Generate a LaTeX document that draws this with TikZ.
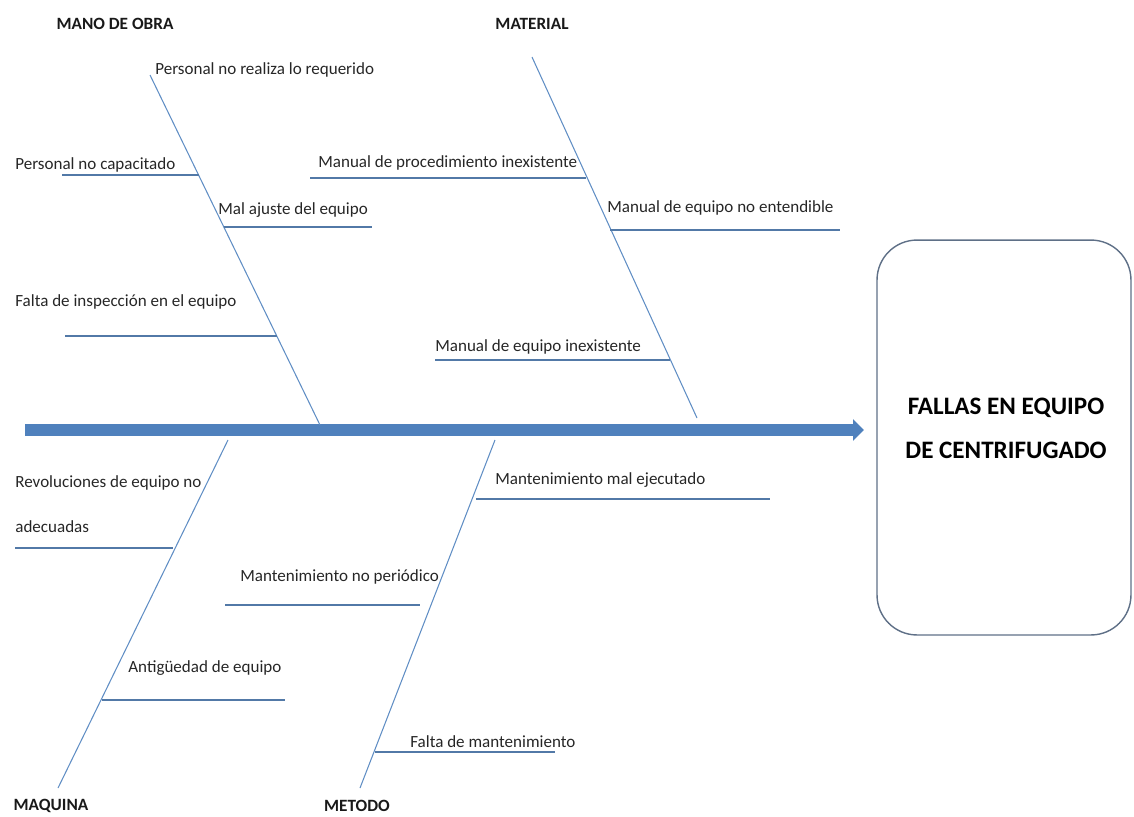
\documentclass[tikz,border=0pt]{standalone}
\usepackage{fontspec}
\setmainfont{Carlito}
\usepackage{xcolor}
\usetikzlibrary{positioning,arrows.meta,calc}

\definecolor{bonecol}{RGB}{96,142,196}
\definecolor{spinecol}{RGB}{79,129,189}
\definecolor{boxedge}{RGB}{95,112,135}

\begin{document}
\begin{tikzpicture}[x=0.02cm, y=-0.02cm,
  cause/.style={
    anchor=west, inner sep=0pt, text=black!85, font=\fontsize{9.7}{12}\selectfont
  },
  category/.style={
    inner sep=0pt, text=black!90, font=\bfseries\fontsize{9.8}{11}\selectfont
  },
  bone/.style={
    draw=bonecol, line width=0.6pt
  },
  twig/.style={
    draw=bonecol!85!black, line width=0.7pt
  },
  spine/.style={
    draw=spinecol, line width=0.25cm,
    -{Triangle[length=0.22cm, width=0.42cm]}
  },
  effect/.style={
    rectangle, draw=boxedge, line width=0.8pt, rounded corners=0.8cm,
    minimum width=5.08cm, minimum height=7.9cm
  },
  effecttext/.style={
    align=center, inner sep=0pt, font=\bfseries\fontsize{14.3}{25}\selectfont
  }
]
\useasboundingbox (0,0) rectangle (1134,816);

% Effect and spine
\node[effect] (falla) at (1004,437.5) {};
\node[effecttext] (fallaText) at (1006,428) {FALLAS EN EQUIPO\\DE CENTRIFUGADO};
\coordinate (spineL) at (25,430);
\coordinate (spineR) at (864,430);
\draw[spine] (spineL) -- (spineR);

% Categories
\node[category] (mano) at (115,24) {MANO DE OBRA};
\node[category] (material) at (532,24) {MATERIAL};
\node[category] (maquina) at (51,806) {MAQUINA};
\node[category] (metodo) at (357,806) {METODO};

% Main bones
\coordinate (manoTop) at (150,75);
\coordinate (manoEnd) at (320,425);
\coordinate (materialTop) at (532,57);
\coordinate (materialEnd) at (697,418);
\coordinate (maquinaTop) at (228,440);
\coordinate (maquinaEnd) at (58,788);
\coordinate (metodoTop) at (495,440);
\coordinate (metodoEnd) at (360,788);
\draw[bone] (manoTop) -- (manoEnd);
\draw[bone] (materialTop) -- (materialEnd);
\draw[bone] (maquinaTop) -- (maquinaEnd);
\draw[bone] (metodoTop) -- (metodoEnd);

% Causes: mano de obra
\node[cause] (realiza) at (155,70) {Personal no realiza lo requerido};
\node[cause] (capacitado) at (15,165) {Personal no capacitado};
\node[cause] (ajuste) at (218,210) {Mal ajuste del equipo};
\node[cause] (inspeccion) at (15,302) {Falta de inspección en el equipo};
\coordinate (capacitadoL) at (62,175);   \coordinate (capacitadoR) at (199,175);
\coordinate (ajusteL) at (224,227);      \coordinate (ajusteR) at (372,227);
\coordinate (inspeccionL) at (65,336);   \coordinate (inspeccionR) at (277,336);
\draw[twig] (capacitadoL) -- (capacitadoR);
\draw[twig] (ajusteL) -- (ajusteR);
\draw[twig] (inspeccionL) -- (inspeccionR);

% Causes: material
\node[cause] (procedimiento) at (318,163) {Manual de procedimiento inexistente};
\node[cause] (entendible) at (607,208) {Manual de equipo no entendible};
\node[cause] (inexistente) at (435,347) {Manual de equipo inexistente};
\coordinate (procedimientoL) at (310,178); \coordinate (procedimientoR) at (586,178);
\coordinate (entendibleL) at (610,230);    \coordinate (entendibleR) at (840,230);
\coordinate (inexistenteL) at (435,360);   \coordinate (inexistenteR) at (670,360);
\draw[twig] (procedimientoL) -- (procedimientoR);
\draw[twig] (entendibleL) -- (entendibleR);
\draw[twig] (inexistenteL) -- (inexistenteR);

% Causes: maquina
\node[cause] (revoluciones) at (15,483) {Revoluciones de equipo no};
\node[cause] (adecuadas) at (15,527) {adecuadas};
\node[cause] (antiguedad) at (128,668) {Antigüedad de equipo};
\coordinate (revolucionesL) at (15,548);  \coordinate (revolucionesR) at (173,548);
\coordinate (antiguedadL) at (102,700);   \coordinate (antiguedadR) at (285,700);
\draw[twig] (revolucionesL) -- (revolucionesR);
\draw[twig] (antiguedadL) -- (antiguedadR);

% Causes: metodo
\node[cause] (ejecutado) at (495,480) {Mantenimiento mal ejecutado};
\node[cause] (periodico) at (240,577) {Mantenimiento no periódico};
\node[cause] (faltamant) at (410,742) {Falta de mantenimiento};
\coordinate (ejecutadoL) at (476,499);   \coordinate (ejecutadoR) at (770,499);
\coordinate (periodicoL) at (225,605);   \coordinate (periodicoR) at (420,605);
\coordinate (faltamantL) at (375,752);   \coordinate (faltamantR) at (555,752);
\draw[twig] (ejecutadoL) -- (ejecutadoR);
\draw[twig] (periodicoL) -- (periodicoR);
\draw[twig] (faltamantL) -- (faltamantR);

\end{tikzpicture}
\end{document}
